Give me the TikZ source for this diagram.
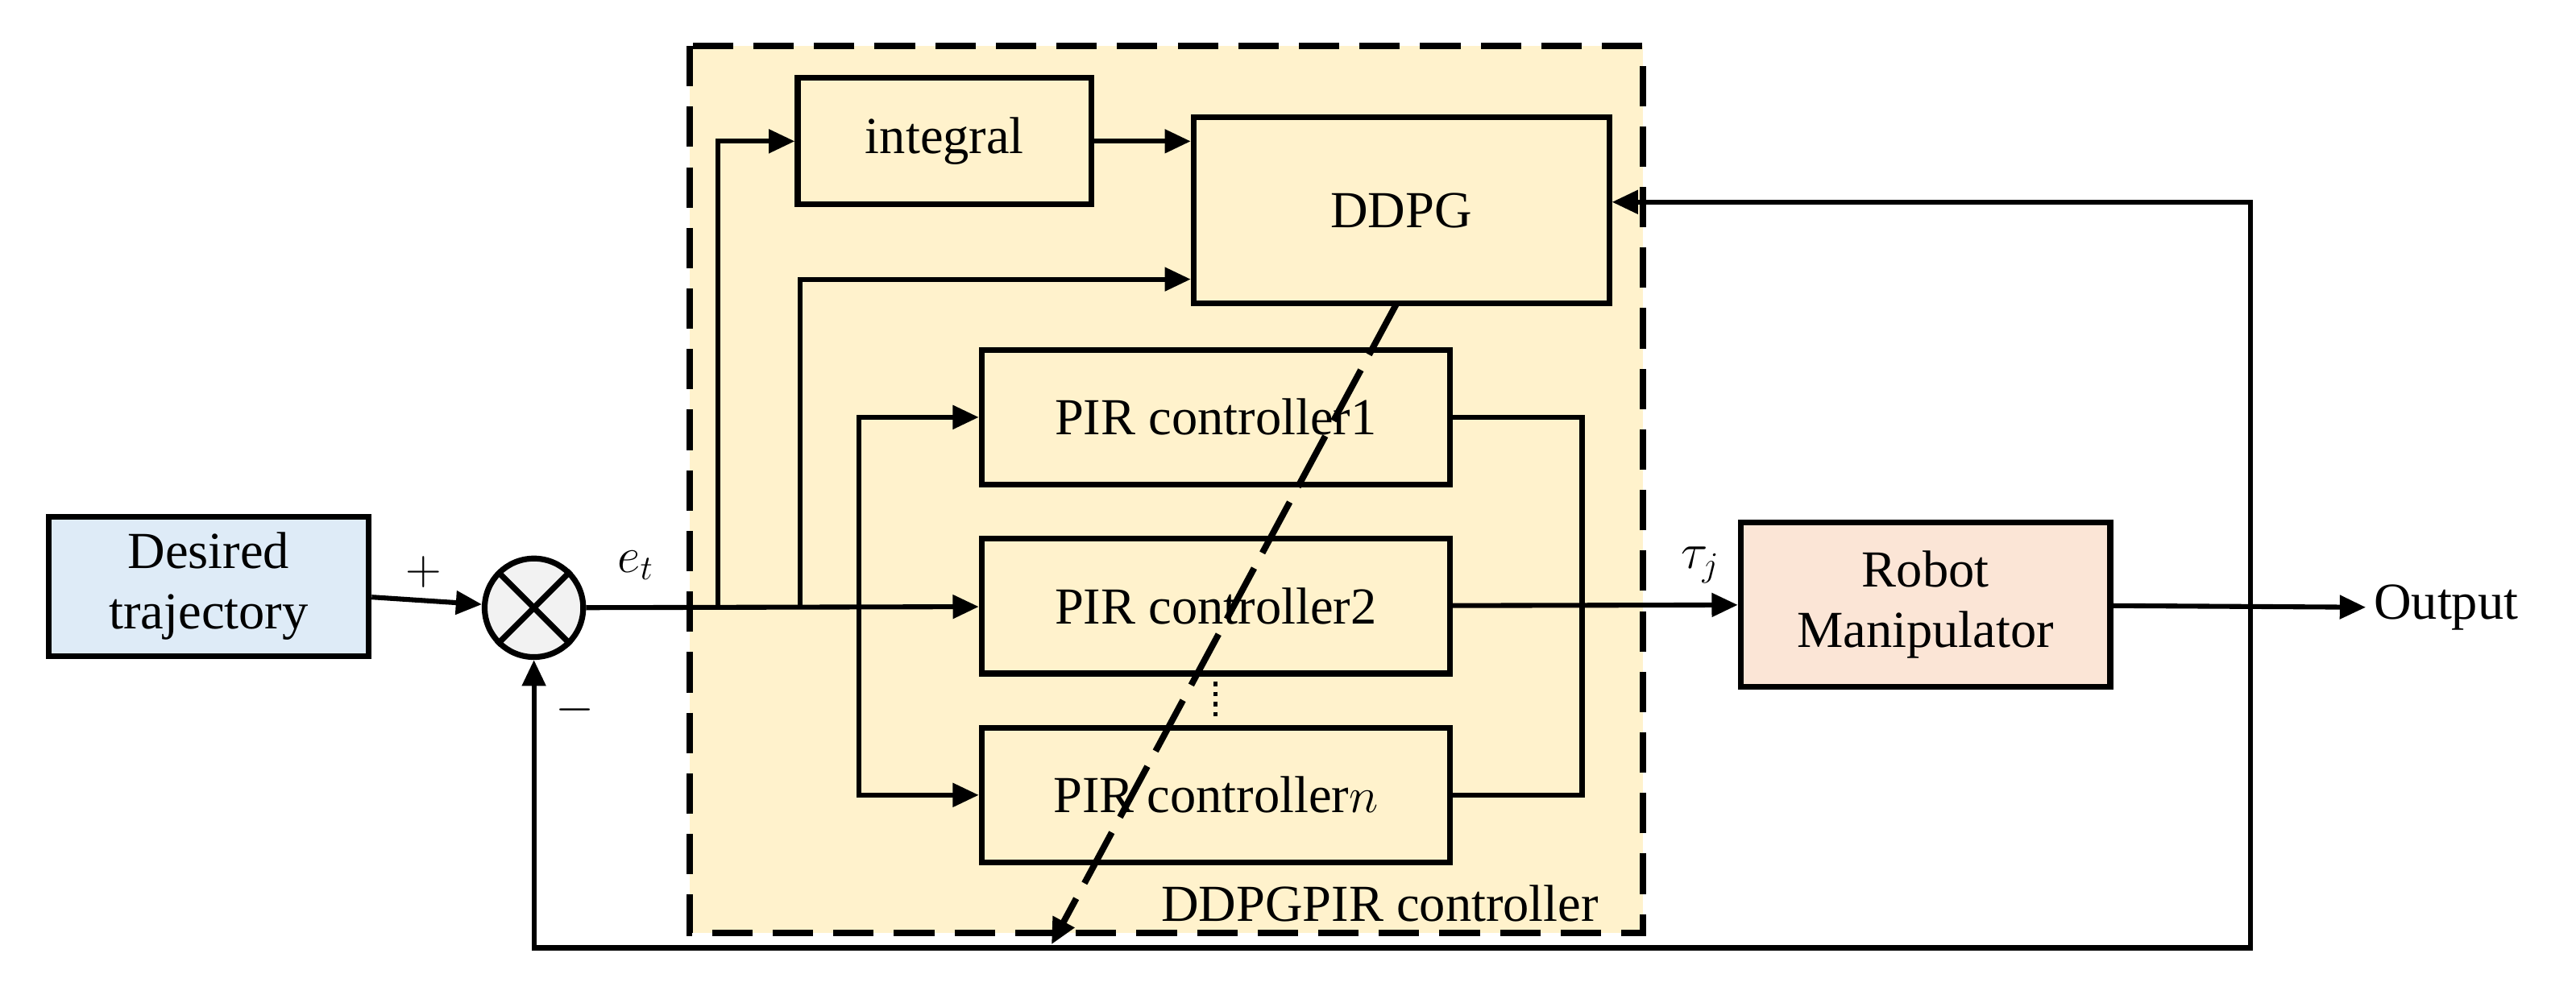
\documentclass[tikz,border=0pt]{standalone}
\usepackage{fontspec}
\setmainfont{Liberation Serif}
\usetikzlibrary{arrows.meta}
\begin{document}
\begin{tikzpicture}[x=0.02cm,y=-0.02cm,
  line width=1.7pt,
  every node/.style={font=\fontsize{18}{21}\selectfont},
  blk/.style={draw,line width=2pt,inner sep=0pt,align=center,fill=yellowbg},
  arr/.style={-{Triangle[length=9pt,width=8pt]}}]
\definecolor{yellowbg}{HTML}{FFF2CC}
\definecolor{bluebg}{HTML}{DEEBF7}
\definecolor{redbg}{HTML}{FBE5D6}
\definecolor{graybg}{HTML}{F2F2F2}
\useasboundingbox (0,0) rectangle (1568,608);
\fill[yellowbg] (420,28) rectangle (1000,568);
\draw[line width=2.2pt,dash pattern=on 14pt off 7pt] (420,28) rectangle (1000,568);
\node[blk,fill=bluebg,minimum width=3.9cm,minimum height=1.7cm] (des) at (127,357) {Desired\\trajectory};
\node[draw,circle,fill=graybg,minimum size=1.2cm,inner sep=0pt,line width=2pt] (sum) at (325,370) {};
\draw[line width=2pt] (sum.north west)--(sum.south east) (sum.north east)--(sum.south west);
\node[blk,minimum width=3.58cm,minimum height=1.54cm] (int) at (575,86) {integral};
\node[blk,minimum width=5.06cm,minimum height=2.26cm] (ddpg) at (853,128) {DDPG};
\node[blk,minimum width=5.7cm,minimum height=1.64cm] (p1) at (740,254) {PIR controller1};
\node[blk,minimum width=5.7cm,minimum height=1.64cm] (p2) at (740,369) {PIR controller2};
\node[blk,minimum width=5.7cm,minimum height=1.64cm] (pn) at (740,484) {PIR controller$n$};
\node[blk,fill=redbg,minimum width=4.5cm,minimum height=2.0cm] (rob) at (1172,368) {Robot\\Manipulator};
\node[anchor=west,inner sep=2pt] (out) at (1440,370) {Output};
\node (plus) at (258,348) {$+$};
\node (minus) at (350,432) {$-$};
\node (et) at (387,344) {$e_t$};
\node (tau) at (1035,344) {$\tau_j$};
\node[anchor=south east,inner sep=2pt] (lab) at (978,566) {DDPGPIR controller};
\coordinate (b1) at (437,370);
\coordinate (b2) at (487,370);
\coordinate (b3) at (523,370);
\coordinate (r1) at (963,370);
\coordinate (fb) at (1370,370);
\draw[arr] (des) -- (sum);
\draw[arr] (sum) -- (p2);
\draw[arr] (b1) |- (int);
\draw[arr] (int) -- (int -| ddpg.west);
\draw[arr] (b2) |- (ddpg.west |- 0,170);
\draw[arr] (b3) |- (p1);
\draw[arr] (b3) |- (pn);
\draw (p1.east) -| (r1) |- (pn.east);
\draw[arr] (p2) -- (rob);
\draw[arr] (rob) -- (out);
\draw[arr] (fb) |- (ddpg.east |- 0,123);
\draw[arr] (fb) -- (1370,577) -| (sum.south);
\draw[line width=1.5pt,dotted] (740,415) -- (740,437);
\coordinate (tip) at (640,575);
\draw[line width=2.2pt,dash pattern=on 20pt off 6pt,arr] (850,185) -- (tip);
\end{tikzpicture}
\end{document}
